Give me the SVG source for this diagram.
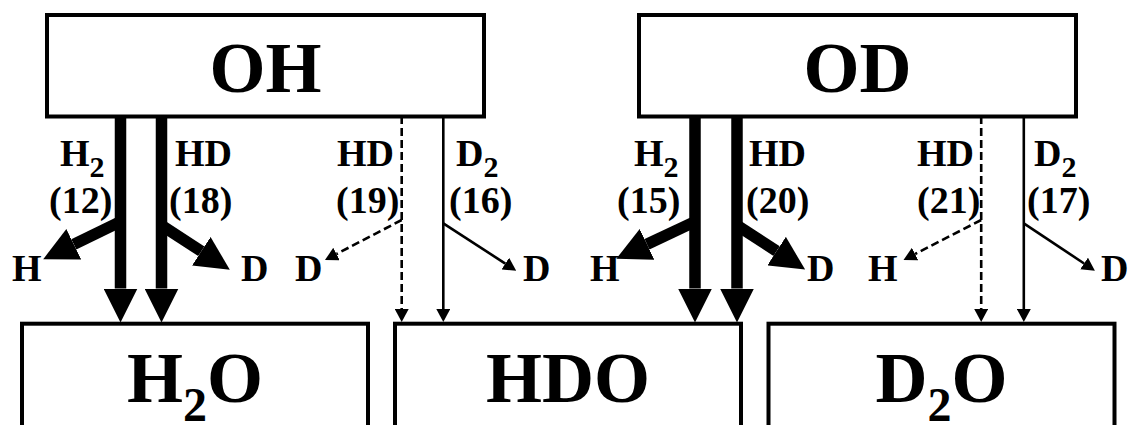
<svg xmlns="http://www.w3.org/2000/svg" width="1132" height="425" viewBox="0 0 1132 425">
<defs>
<style>
.box{fill:#fff;stroke:#000;stroke-width:4}
.big{font-family:"Liberation Serif","Times New Roman",serif;font-weight:bold;font-size:72px;fill:#000}
.lbl{font-family:"Liberation Serif","Times New Roman",serif;font-weight:bold;font-size:38px;fill:#000}
.sub{font-size:30px}
.bsub{font-size:48px}
.thick{stroke:#000;stroke-width:11.5;fill:none;marker-end:url(#hb)}
.thin{stroke:#000;stroke-width:2.6;fill:none;marker-end:url(#hs)}
.dash{stroke-dasharray:8 4}
</style>
<marker id="hb" markerUnits="userSpaceOnUse" viewBox="0 0 34 34" markerWidth="34" markerHeight="34" refX="0" refY="17" orient="auto"><path d="M0,0 L34,17 L0,34 Z" fill="#000"/></marker>
<marker id="hs" markerUnits="userSpaceOnUse" viewBox="0 0 13 14" markerWidth="13" markerHeight="14" refX="0" refY="7" orient="auto"><path d="M0,0 L13,7 L0,14 Z" fill="#000"/></marker>
</defs>
<rect width="1132" height="425" fill="#fff"/>

<g id="connectors">
  <path class="thick" d="M120.5,116 V288.5"/>
  <path class="thick" d="M161.5,116 V288.5"/>
  <path class="thick" d="M120.5,221.6 L73.8,244.3"/>
  <path class="thick" d="M161.5,225.4 L201.3,251.2"/>
  <path class="thin dash" d="M401.7,116 V309"/>
  <path class="thin" d="M443.3,116 V309"/>
  <path class="thin dash" d="M401.7,220 L336.5,254"/>
  <path class="thin" d="M443.3,223.3 L505.3,263.6"/>
  <path class="thick" d="M695,116 V288.5"/>
  <path class="thick" d="M737,116 V288.5"/>
  <path class="thick" d="M695,221.6 L647,244.3"/>
  <path class="thick" d="M737,225.4 L776.6,251.1"/>
  <path class="thin dash" d="M981.2,116 V309"/>
  <path class="thin" d="M1023.8,116 V309"/>
  <path class="thin dash" d="M981.2,220 L915.1,254"/>
  <path class="thin" d="M1023.8,223.3 L1084.1,263.5"/>

  <text class="lbl" x="60" y="166">H<tspan class="sub" dy="11">2</tspan></text>
  <text class="lbl" x="49" y="213">(12)</text>
  <text class="lbl" x="175" y="166">HD</text>
  <text class="lbl" x="169" y="213">(18)</text>
  <text class="lbl" x="337" y="166">HD</text>
  <text class="lbl" x="336" y="213">(19)</text>
  <text class="lbl" x="456" y="166">D<tspan class="sub" dy="11">2</tspan></text>
  <text class="lbl" x="449" y="213">(16)</text>

  <text class="lbl" x="634" y="166">H<tspan class="sub" dy="11">2</tspan></text>
  <text class="lbl" x="617" y="213">(15)</text>
  <text class="lbl" x="749" y="166">HD</text>
  <text class="lbl" x="746" y="213">(20)</text>
  <text class="lbl" x="917" y="166">HD</text>
  <text class="lbl" x="917" y="213">(21)</text>
  <text class="lbl" x="1034" y="166">D<tspan class="sub" dy="11">2</tspan></text>
  <text class="lbl" x="1027" y="213">(17)</text>

  <text class="lbl" x="12" y="281">H</text>
  <text class="lbl" x="241" y="281">D</text>
  <text class="lbl" x="295" y="281">D</text>
  <text class="lbl" x="523" y="281">D</text>
  <text class="lbl" x="590" y="281">H</text>
  <text class="lbl" x="807" y="281">D</text>
  <text class="lbl" x="868" y="281">H</text>
  <text class="lbl" x="1101" y="281">D</text>
</g>

<g id="OH">
  <rect class="box" x="47" y="15" width="437" height="101.5"/>
  <text class="big" x="265.5" y="92" text-anchor="middle">OH</text>
</g>
<g id="OD">
  <rect class="box" x="639" y="15" width="437" height="101.5"/>
  <text class="big" x="857.5" y="92" text-anchor="middle">OD</text>
</g>
<g id="H2O">
  <rect class="box" x="22" y="323.7" width="346" height="130"/>
  <text class="big" x="127" y="402">H<tspan class="bsub" dy="19">2</tspan><tspan dy="-19">O</tspan></text>
</g>
<g id="HDO">
  <rect class="box" x="395" y="323.7" width="346" height="130"/>
  <text class="big" x="568" y="402" text-anchor="middle">HDO</text>
</g>
<g id="D2O">
  <rect class="box" x="768.5" y="323.7" width="346" height="130"/>
  <text class="big" x="875.5" y="402">D<tspan class="bsub" dy="19">2</tspan><tspan dy="-19">O</tspan></text>
</g>
</svg>
